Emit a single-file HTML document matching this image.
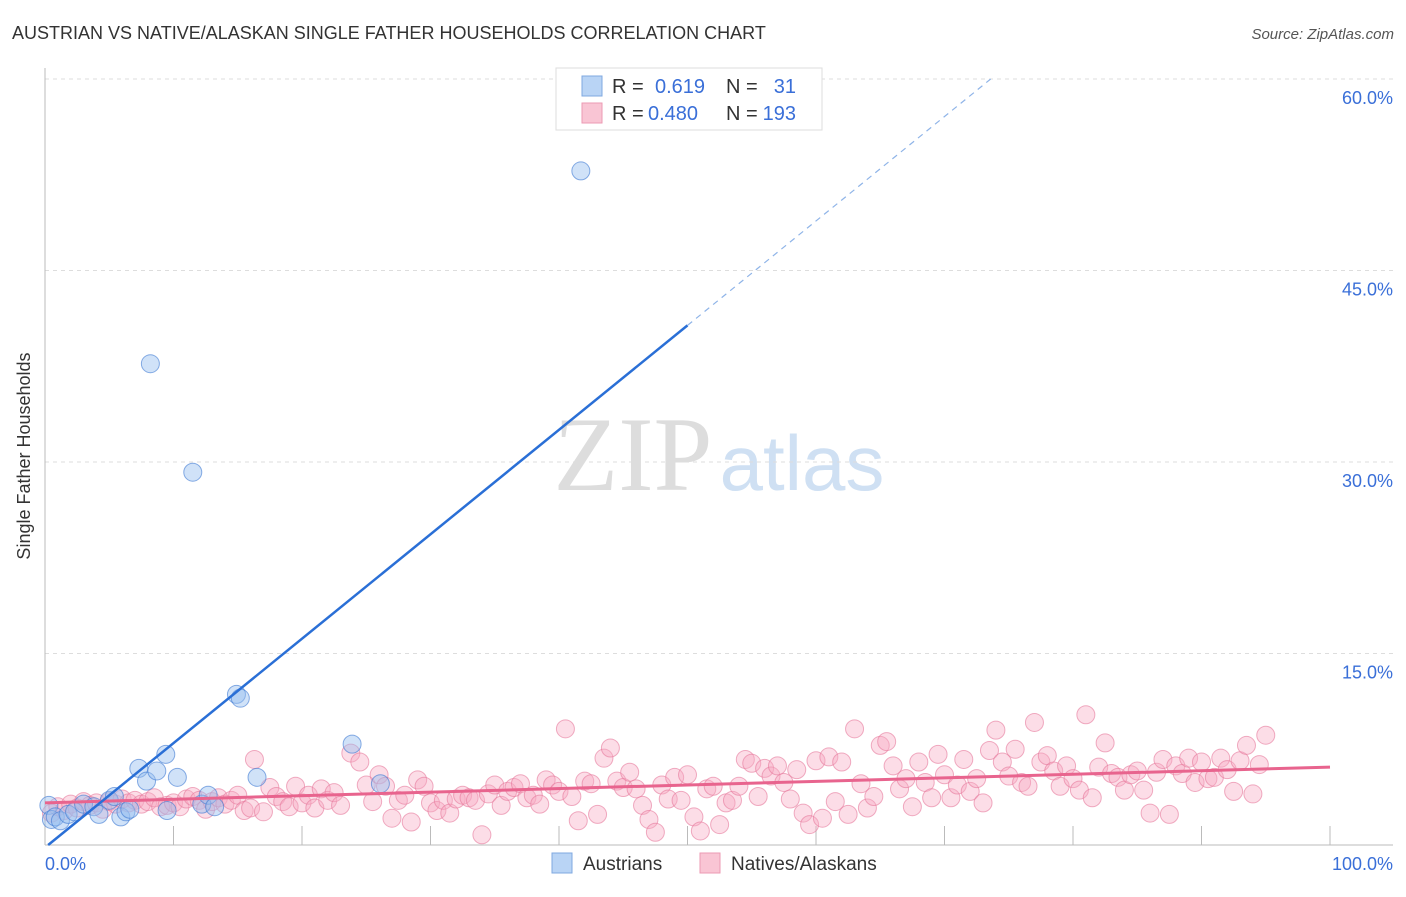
<!DOCTYPE html>
<html><head><meta charset="utf-8"><style>
body{margin:0;background:#fff;font-family:"Liberation Sans",sans-serif}
svg text{font-family:"Liberation Sans",sans-serif}
</style></head><body>
<svg width="1406" height="892" xmlns="http://www.w3.org/2000/svg">
<text x="12" y="39" font-size="18" fill="#333">AUSTRIAN VS NATIVE/ALASKAN SINGLE FATHER HOUSEHOLDS CORRELATION CHART</text>
<text x="1394" y="39" font-size="15" fill="#555" font-style="italic" text-anchor="end">Source: ZipAtlas.com</text>
<g>
<text x="633" y="490" font-size="106" fill="#ddd" text-anchor="middle" style="font-family:'Liberation Serif',serif">ZIP</text>
<text x="802" y="490" font-size="78" fill="#cfe0f3" text-anchor="middle">atlas</text>
</g>
<g id="grid"></g>
<g id="axes"></g>
<g id="marks"></g>
<text x="30" y="456" font-size="18" fill="#333" text-anchor="middle" transform="rotate(-90 30 456)">Single Father Households</text>
<g>
<rect x="556" y="68" width="266" height="62" fill="#fff" stroke="#ddd"/>
<rect x="582" y="76" width="20" height="20" fill="#b9d4f5" stroke="#7fa8e0"/>
<rect x="582" y="103" width="20" height="20" fill="#f9c5d4" stroke="#ec9ab3"/>
<text x="612" y="93" font-size="20" fill="#333">R =</text>
<text x="655" y="93" font-size="20" fill="#3a6fd8">0.619</text>
<text x="726" y="93" font-size="20" fill="#333">N =</text>
<text x="796" y="93" font-size="20" fill="#3a6fd8" text-anchor="end">31</text>
<text x="612" y="120" font-size="20" fill="#333">R =</text>
<text x="648" y="120" font-size="20" fill="#3a6fd8">0.480</text>
<text x="726" y="120" font-size="20" fill="#333">N =</text>
<text x="796" y="120" font-size="20" fill="#3a6fd8" text-anchor="end">193</text>
</g>
<g>
<rect x="552" y="853" width="20" height="20" fill="#b9d4f5" stroke="#7fa8e0"/>
<text x="583" y="870" font-size="19" fill="#333">Austrians</text>
<rect x="700" y="853" width="20" height="20" fill="#f9c5d4" stroke="#ec9ab3"/>
<text x="731" y="870" font-size="19" fill="#333">Natives/Alaskans</text>
</g>
</svg>
<script>
const yTicks=[15,30,45,60];
const yTickLabels=["15.0%","30.0%","45.0%","60.0%"];
const xTickLabels=["0.0%","100.0%"];
const blueX=[0.3,0.5,0.8,1.2,1.8,2.3,3.0,3.8,4.2,5.0,5.4,5.9,6.3,6.6,7.3,7.9,8.2,8.7,9.4,9.5,10.3,11.5,12.2,12.7,13.2,14.9,15.2,16.5,23.9,26.1,41.7];
const blueY=[3.1,2.0,2.2,1.9,2.4,2.6,3.2,3.0,2.4,3.5,3.8,2.2,2.6,2.8,6.0,5.0,37.7,5.8,7.1,2.7,5.3,29.2,3.2,3.9,3.0,11.8,11.5,5.3,7.9,4.8,52.8];
const pinkX=[0.5,1,1.5,2,2.5,3,3.5,4,4.5,5,5.5,6,6.5,7,7.5,8,8.5,9,9.5,10,10.5,11,11.5,12,12.5,13,13.5,14,14.5,15,15.5,16,16.3,17,17.5,18,18.5,19,19.5,20,20.5,21,21.5,22,22.5,23,23.8,24.5,25,25.5,26,26.5,27,27.5,28,28.5,29,29.5,30,30.5,31,31.5,32,32.5,33,33.5,34,34.5,35,35.5,36,36.5,37,37.5,38,38.5,39,39.5,40,40.5,41,41.5,42,42.5,43,43.5,44,44.5,45,45.5,46,46.5,47,47.5,48,48.5,49,49.5,50,50.5,51,51.5,52,52.5,53,53.5,54,54.5,55,55.5,56,56.5,57,57.5,58,58.5,59,59.5,60,60.5,61,61.5,62,62.5,63,63.5,64,64.5,65,65.5,66,66.5,67,67.5,68,68.5,69,69.5,70,70.5,71,71.5,72,72.5,73,73.5,74,74.5,75,75.5,76,76.5,77,77.5,78,78.5,79,79.5,80,80.5,81,81.5,82,82.5,83,83.5,84,84.5,85,85.5,86,86.5,87,87.5,88,88.5,89,89.5,90,90.5,91,91.5,92,92.5,93,93.5,94,94.5,95];
const pinkY=[2.5,3,2.7,3.2,2.9,3.4,3.1,3.3,2.8,3.4,3.2,3.6,3.3,3.5,3.2,3.4,3.7,3.0,3.1,3.3,3.0,3.6,3.8,3.5,2.8,3.4,3.7,3.2,3.5,3.9,2.7,2.9,6.7,2.6,4.5,3.8,3.4,3.0,4.6,3.3,3.9,2.9,4.4,3.5,4.1,3.1,7.2,6.5,4.7,3.4,5.5,4.6,2.1,3.5,3.9,1.8,5.1,4.6,3.3,2.7,3.5,2.5,3.6,3.9,3.7,3.5,0.8,4.0,4.7,3.1,4.2,4.5,4.8,3.7,3.9,3.2,5.1,4.7,4.2,9.1,3.8,1.9,5.0,4.8,2.4,6.8,7.6,5.0,4.5,5.7,4.4,3.1,2.0,1.0,4.7,3.6,5.3,3.5,5.5,2.2,1.1,4.4,4.6,1.6,3.3,3.5,4.6,6.7,6.4,3.8,6.0,5.4,6.2,4.9,3.6,5.9,2.5,1.6,6.6,2.1,6.9,3.4,6.5,2.4,9.1,4.8,2.9,3.8,7.8,8.1,6.2,4.4,5.2,3.0,6.5,4.9,3.7,7.1,5.5,3.7,4.7,6.7,4.2,5.2,3.3,7.4,9.0,6.5,5.4,7.5,4.9,4.6,9.6,6.5,7.0,5.8,4.6,6.2,5.2,4.3,10.2,3.7,6.1,8.0,5.6,5.3,4.3,5.5,5.8,4.3,2.5,5.7,6.7,2.4,6.2,5.6,6.8,4.9,6.5,5.2,5.3,6.8,5.9,4.2,6.6,7.8,4.0,6.3,8.6];
const blueFit=[-0.2,0.818];
const pinkFit=[3.3,0.028];
const NS="http://www.w3.org/2000/svg";
const X0=45,X1=1330,Y0=845,YT=79;
const sx=v=>X0+(X1-X0)*v/100;
const sy=v=>Y0-(Y0-YT)*v/60;
function mk(tag,attrs,parent){const e=document.createElementNS(NS,tag);for(const k in attrs)e.setAttribute(k,attrs[k]);document.getElementById(parent).appendChild(e);return e;}
yTicks.forEach((t,i)=>{
  const g=mk('line',{x1:X0,x2:1393,y1:sy(t),y2:sy(t),stroke:'#ddd','stroke-dasharray':'4,4'},'grid');
  
  
  const l=mk('text',{x:1393,y:sy(t)+25,'font-size':18,fill:'#3a6fd8','text-anchor':'end'},'axes');
  l.textContent=yTickLabels[i];
  
  
});
const ax=mk('line',{x1:X0,x2:X0,y1:68,y2:Y0,stroke:'#bbb'},'axes');


const xa=mk('line',{x1:X0,x2:1393,y1:Y0,y2:Y0,stroke:'#bbb'},'axes');


for(let i=1;i<=10;i++){
  const t=mk('line',{x1:sx(i*10),x2:sx(i*10),y1:Y0-19,y2:Y0,stroke:'#bbb'},'axes');
  
  
}
const xl0=mk('text',{x:X0,y:870,'font-size':18,fill:'#3a6fd8'},'axes');
xl0.textContent=xTickLabels[0];


const xl1=mk('text',{x:1393,y:870,'font-size':18,fill:'#3a6fd8','text-anchor':'end'},'axes');
xl1.textContent=xTickLabels[1];


pinkX.forEach((x,i)=>{
  const c=mk('circle',{cx:sx(x),cy:sy(pinkY[i]),r:9,fill:'rgba(247,170,195,0.4)',stroke:'rgba(230,120,155,0.6)','stroke-width':1},'marks');
  
  
});
blueX.forEach((x,i)=>{
  const c=mk('circle',{cx:sx(x),cy:sy(blueY[i]),r:9,fill:'rgba(150,190,240,0.45)',stroke:'rgba(60,120,210,0.6)','stroke-width':1},'marks');
  
  
});
const pl=mk('line',{x1:sx(0),y1:sy(pinkFit[0]),x2:sx(100),y2:sy(pinkFit[0]+pinkFit[1]*100),stroke:'#e8648e','stroke-width':3},'marks');


const bx0=(0-blueFit[0])/blueFit[1];
const bl=mk('line',{x1:sx(bx0),y1:sy(0),x2:sx(50),y2:sy(blueFit[0]+blueFit[1]*50),stroke:'#2a6fd6','stroke-width':2.5},'marks');


const bxe=(60-blueFit[0])/blueFit[1];
const bd=mk('line',{x1:sx(50),y1:sy(blueFit[0]+blueFit[1]*50),x2:sx(bxe),y2:sy(60),stroke:'#8fb4e8','stroke-width':1.2,'stroke-dasharray':'6,5'},'marks');


</script>
</body></html>
